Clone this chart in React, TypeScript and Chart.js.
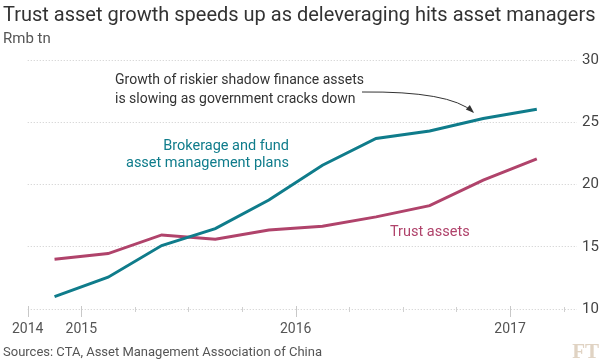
import React, { useEffect, useRef } from "react";
import { Chart, registerables } from "chart.js";

Chart.register(...registerables);

// Quarterly observations (x = quarter index from Q4 2014, plotted mid-quarter)
const quarters = ["2014 Q4", "2015 Q1", "2015 Q2", "2015 Q3", "2015 Q4", "2016 Q1", "2016 Q2", "2016 Q3", "2016 Q4", "2017 Q1"];
const brokerage = [11.0, 12.55, 15.1, 16.45, 18.75, 21.55, 23.7, 24.3, 25.3, 26.05];
const trust = [14.0, 14.45, 15.95, 15.6, 16.35, 16.65, 17.4, 18.3, 20.35, 22.05];
const yearTickLabels: Record<number, string> = { 0: "2014", 1: "2015", 5: "2016", 9: "2017" };
const yTicks = [10, 15, 20, 25, 30];

const TEAL = "#0f7c8b";
const CLARET = "#b0436b";
const FONT = "Roboto, 'Noto Sans', sans-serif";

const overlay = {
  id: "overlay",
  afterDatasetsDraw(chart: any) {
    const ctx = chart.ctx;
    const x = chart.scales.x;
    const area = chart.chartArea;
    ctx.save();
    // x-axis tick marks
    for (let i = 0; i <= 10; i++) {
      const px = Math.round(x.getPixelForValue(i)) + 0.5;
      const major = yearTickLabels[i] !== undefined;
      ctx.strokeStyle = major ? "#c8c8c8" : "#d0d0d0";
      ctx.lineWidth = 1;
      ctx.beginPath();
      ctx.moveTo(px, area.bottom - (major ? 3 : 2));
      ctx.lineTo(px, area.bottom + (major ? 8 : 3));
      ctx.stroke();
    }
    // titles
    ctx.textBaseline = "alphabetic";
    ctx.textAlign = "left";
    ctx.fillStyle = "#333333";
    ctx.font = `20px ${FONT}`;
    ctx.fillText("Trust asset growth speeds up as deleveraging hits asset managers", 3, 21);
    ctx.fillStyle = "#555555";
    ctx.font = `15px ${FONT}`;
    ctx.fillText("Rmb tn", 3, 43);
    ctx.font = `13px ${FONT}`;
    ctx.fillText("Sources: CTA, Asset Management Association of China", 3, 356);
    // FT logo
    ctx.fillStyle = "#e0d3c3";
    ctx.font = `bold 21px 'Liberation Serif', 'DejaVu Serif', serif`;
    ctx.textAlign = "right";
    ctx.fillText("FT", 599, 358);
    // annotations
    ctx.textAlign = "left";
    ctx.fillStyle = "#333333";
    ctx.font = `14px ${FONT}`;
    ctx.fillText("Growth of riskier shadow finance assets", 115, 84);
    ctx.fillText("is slowing as government cracks down", 115, 103);
    ctx.fillStyle = TEAL;
    ctx.textAlign = "right";
    ctx.font = `14.5px ${FONT}`;
    ctx.fillText("Brokerage and fund", 289, 150);
    ctx.fillText("asset management plans", 289, 167);
    ctx.fillStyle = CLARET;
    ctx.textAlign = "left";
    ctx.fillText("Trust assets", 390, 236);
    // arrow
    const sx = 362, sy = 92, cx = 450, cy = 91, ex = 473, ey = 112;
    ctx.strokeStyle = "#333333";
    ctx.lineWidth = 1;
    ctx.beginPath();
    ctx.moveTo(sx, sy);
    ctx.quadraticCurveTo(cx, cy, ex, ey);
    ctx.stroke();
    const ang = Math.atan2(ey - cy, ex - cx);
    const L = 7, W = 3;
    ctx.fillStyle = "#333333";
    ctx.beginPath();
    ctx.moveTo(ex + 1.5 * Math.cos(ang), ey + 1.5 * Math.sin(ang));
    ctx.lineTo(ex - L * Math.cos(ang) + W * Math.sin(ang), ey - L * Math.sin(ang) - W * Math.cos(ang));
    ctx.lineTo(ex - L * Math.cos(ang) - W * Math.sin(ang), ey - L * Math.sin(ang) + W * Math.cos(ang));
    ctx.closePath();
    ctx.fill();
    ctx.restore();
  },
};

export default function App() {
  const ref = useRef<HTMLCanvasElement>(null);
  useEffect(() => {
    if (!ref.current) return;
    const toXY = (arr: number[]) => arr.map((v, i) => ({ x: i + 0.5, y: v }));
    const chart = new Chart(ref.current, {
      type: "line",
      data: {
        labels: quarters,
        datasets: [
          {
            label: "Brokerage and fund asset management plans",
            data: toXY(brokerage),
            borderColor: TEAL,
            borderWidth: 3,
            pointRadius: 0,
            tension: 0,
          },
          {
            label: "Trust assets",
            data: toXY(trust),
            borderColor: CLARET,
            borderWidth: 3,
            pointRadius: 0,
            tension: 0,
          },
        ],
      },
      options: {
        animation: false,
        responsive: false,
        maintainAspectRatio: false,
        devicePixelRatio: 1,
        layout: { padding: { top: 60, left: 15, right: 0, bottom: 0 } },
        plugins: { legend: { display: false }, tooltip: { enabled: false }, title: { display: false } },
        scales: {
          x: {
            type: "linear",
            min: 0,
            max: 10.25,
            grid: { display: false, drawTicks: false },
            border: { display: false },
            ticks: {
              stepSize: 1,
              autoSkip: false,
              maxRotation: 0,
              includeBounds: false,
              padding: 12,
              color: "#555555",
              font: { family: FONT, size: 14 },
              callback: (v: any) => yearTickLabels[v as number] ?? "",
            },
            afterFit: (s: any) => { s.height = 51; },
          },
          y: {
            position: "right",
            min: 10,
            max: 30,
            afterBuildTicks: (s: any) => { s.ticks = yTicks.map((v) => ({ value: v })); },
            grid: { color: "#cccccc", lineWidth: 1, drawTicks: false },
            border: { display: false, dash: [1, 2] },
            ticks: {
              padding: 5,
              color: "#444444",
              font: { family: FONT, size: 15 },
              crossAlign: "near",
            },
            afterFit: (s: any) => { s.width = 23; },
          },
        },
      },
      plugins: [overlay],
    });
    return () => chart.destroy();
  }, []);
  return (
    <div style={{ position: "fixed", left: 0, top: 0, width: 600, height: 360, background: "#fff" }}>
      <canvas ref={ref} width={600} height={360} style={{ width: 600, height: 360 }} />
    </div>
  );
}
